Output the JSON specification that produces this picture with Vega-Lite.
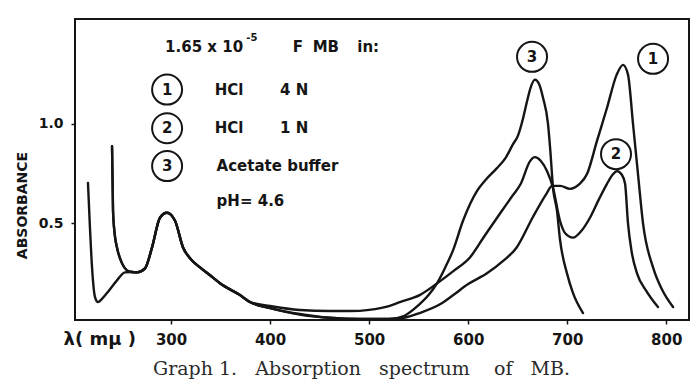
{
  "$schema": "https://vega.github.io/schema/vega-lite/v6.json",
  "width": 614,
  "height": 301,
  "autosize": {"type": "none"},
  "padding": {"left": 75, "top": 19, "right": 11, "bottom": 66},
  "background": "white",
  "config": {
    "view": {"stroke": "#151515", "strokeWidth": 2},
    "font": "DejaVu Sans",
    "axis": {
      "domain": false,
      "grid": false,
      "tickColor": "#151515",
      "tickWidth": 1.5,
      "tickSize": 4,
      "labelColor": "#151515",
      "labelFont": "DejaVu Sans",
      "labelFontWeight": "bold",
      "titleColor": "#151515",
      "titleFont": "DejaVu Sans",
      "titleFontWeight": "bold"
    }
  },
  "title": {
    "text": "Graph 1.\u00a0\u00a0 Absorption\u00a0\u00a0 spectrum\u00a0\u00a0\u00a0 of\u00a0\u00a0 MB.",
    "orient": "bottom",
    "anchor": "start",
    "dx": 138,
    "offset": 12,
    "font": "DejaVu Serif",
    "fontSize": 19,
    "fontWeight": "normal",
    "color": "#2a2a2a"
  },
  "datasets": {
    "spectra": [
      {"series": "1", "nm": 240.4, "abs": 0.887},
      {"series": "1", "nm": 241.4, "abs": 0.563},
      {"series": "1", "nm": 243, "abs": 0.45},
      {"series": "1", "nm": 245.4, "abs": 0.379},
      {"series": "1", "nm": 250.5, "abs": 0.299},
      {"series": "1", "nm": 255.5, "abs": 0.264},
      {"series": "1", "nm": 260, "abs": 0.256},
      {"series": "1", "nm": 265.6, "abs": 0.254},
      {"series": "1", "nm": 273.7, "abs": 0.274},
      {"series": "1", "nm": 280.8, "abs": 0.379},
      {"series": "1", "nm": 288.8, "abs": 0.528},
      {"series": "1", "nm": 295.9, "abs": 0.553},
      {"series": "1", "nm": 304, "abs": 0.513},
      {"series": "1", "nm": 312.1, "abs": 0.379},
      {"series": "1", "nm": 320, "abs": 0.32},
      {"series": "1", "nm": 329.2, "abs": 0.279},
      {"series": "1", "nm": 342, "abs": 0.229},
      {"series": "1", "nm": 349.4, "abs": 0.199},
      {"series": "1", "nm": 369.6, "abs": 0.14},
      {"series": "1", "nm": 379.7, "abs": 0.105},
      {"series": "1", "nm": 400, "abs": 0.075},
      {"series": "1", "nm": 430, "abs": 0.042},
      {"series": "1", "nm": 460, "abs": 0.026},
      {"series": "1", "nm": 490, "abs": 0.02},
      {"series": "1", "nm": 520, "abs": 0.02},
      {"series": "1", "nm": 535, "abs": 0.026},
      {"series": "1", "nm": 551, "abs": 0.05},
      {"series": "1", "nm": 572, "abs": 0.095},
      {"series": "1", "nm": 585, "abs": 0.14},
      {"series": "1", "nm": 600, "abs": 0.195},
      {"series": "1", "nm": 619, "abs": 0.249},
      {"series": "1", "nm": 635, "abs": 0.31},
      {"series": "1", "nm": 649, "abs": 0.379},
      {"series": "1", "nm": 665, "abs": 0.528},
      {"series": "1", "nm": 679, "abs": 0.648},
      {"series": "1", "nm": 684.7, "abs": 0.688},
      {"series": "1", "nm": 693, "abs": 0.688},
      {"series": "1", "nm": 702.8, "abs": 0.673},
      {"series": "1", "nm": 712, "abs": 0.695},
      {"series": "1", "nm": 720, "abs": 0.747},
      {"series": "1", "nm": 730, "abs": 0.912},
      {"series": "1", "nm": 740, "abs": 1.076},
      {"series": "1", "nm": 750, "abs": 1.246},
      {"series": "1", "nm": 756.4, "abs": 1.295},
      {"series": "1", "nm": 761.4, "abs": 1.246},
      {"series": "1", "nm": 766.5, "abs": 0.997},
      {"series": "1", "nm": 771.5, "abs": 0.747},
      {"series": "1", "nm": 776.6, "abs": 0.498},
      {"series": "1", "nm": 786.7, "abs": 0.279},
      {"series": "1", "nm": 796, "abs": 0.165},
      {"series": "1", "nm": 806.9, "abs": 0.08},

      {"series": "2", "nm": 240.4, "abs": 0.887},
      {"series": "2", "nm": 241.4, "abs": 0.563},
      {"series": "2", "nm": 243, "abs": 0.45},
      {"series": "2", "nm": 245.4, "abs": 0.379},
      {"series": "2", "nm": 250.5, "abs": 0.299},
      {"series": "2", "nm": 255.5, "abs": 0.264},
      {"series": "2", "nm": 260, "abs": 0.256},
      {"series": "2", "nm": 265.6, "abs": 0.254},
      {"series": "2", "nm": 273.7, "abs": 0.274},
      {"series": "2", "nm": 280.8, "abs": 0.379},
      {"series": "2", "nm": 288.8, "abs": 0.528},
      {"series": "2", "nm": 295.9, "abs": 0.553},
      {"series": "2", "nm": 304, "abs": 0.513},
      {"series": "2", "nm": 312.1, "abs": 0.379},
      {"series": "2", "nm": 320, "abs": 0.32},
      {"series": "2", "nm": 329.2, "abs": 0.279},
      {"series": "2", "nm": 342, "abs": 0.229},
      {"series": "2", "nm": 349.4, "abs": 0.199},
      {"series": "2", "nm": 369.6, "abs": 0.14},
      {"series": "2", "nm": 379.7, "abs": 0.105},
      {"series": "2", "nm": 400, "abs": 0.085},
      {"series": "2", "nm": 430, "abs": 0.065},
      {"series": "2", "nm": 460, "abs": 0.06},
      {"series": "2", "nm": 481, "abs": 0.06},
      {"series": "2", "nm": 500, "abs": 0.066},
      {"series": "2", "nm": 520, "abs": 0.085},
      {"series": "2", "nm": 531, "abs": 0.105},
      {"series": "2", "nm": 551, "abs": 0.14},
      {"series": "2", "nm": 569, "abs": 0.2},
      {"series": "2", "nm": 585, "abs": 0.26},
      {"series": "2", "nm": 602, "abs": 0.33},
      {"series": "2", "nm": 617, "abs": 0.44},
      {"series": "2", "nm": 632, "abs": 0.548},
      {"series": "2", "nm": 645, "abs": 0.64},
      {"series": "2", "nm": 653, "abs": 0.697},
      {"series": "2", "nm": 662.5, "abs": 0.812},
      {"series": "2", "nm": 667.5, "abs": 0.832},
      {"series": "2", "nm": 673, "abs": 0.815},
      {"series": "2", "nm": 679.6, "abs": 0.762},
      {"series": "2", "nm": 685.7, "abs": 0.678},
      {"series": "2", "nm": 692.7, "abs": 0.513},
      {"series": "2", "nm": 698, "abs": 0.45},
      {"series": "2", "nm": 705.9, "abs": 0.428},
      {"series": "2", "nm": 714, "abs": 0.46},
      {"series": "2", "nm": 723, "abs": 0.528},
      {"series": "2", "nm": 732, "abs": 0.62},
      {"series": "2", "nm": 740.2, "abs": 0.698},
      {"series": "2", "nm": 746, "abs": 0.745},
      {"series": "2", "nm": 750.3, "abs": 0.762},
      {"series": "2", "nm": 755, "abs": 0.745},
      {"series": "2", "nm": 758.4, "abs": 0.7},
      {"series": "2", "nm": 761.4, "abs": 0.5},
      {"series": "2", "nm": 765, "abs": 0.36},
      {"series": "2", "nm": 770.5, "abs": 0.249},
      {"series": "2", "nm": 780, "abs": 0.16},
      {"series": "2", "nm": 791.7, "abs": 0.08},

      {"series": "3", "nm": 216.1, "abs": 0.703},
      {"series": "3", "nm": 218.1, "abs": 0.478},
      {"series": "3", "nm": 220.2, "abs": 0.279},
      {"series": "3", "nm": 223.2, "abs": 0.13},
      {"series": "3", "nm": 226.2, "abs": 0.105},
      {"series": "3", "nm": 230, "abs": 0.12},
      {"series": "3", "nm": 235.3, "abs": 0.15},
      {"series": "3", "nm": 245.4, "abs": 0.214},
      {"series": "3", "nm": 253.5, "abs": 0.254},
      {"series": "3", "nm": 260, "abs": 0.256},
      {"series": "3", "nm": 265.6, "abs": 0.254},
      {"series": "3", "nm": 273.7, "abs": 0.274},
      {"series": "3", "nm": 280.8, "abs": 0.379},
      {"series": "3", "nm": 288.8, "abs": 0.528},
      {"series": "3", "nm": 295.9, "abs": 0.553},
      {"series": "3", "nm": 304, "abs": 0.513},
      {"series": "3", "nm": 312.1, "abs": 0.379},
      {"series": "3", "nm": 320, "abs": 0.32},
      {"series": "3", "nm": 329.2, "abs": 0.279},
      {"series": "3", "nm": 342, "abs": 0.229},
      {"series": "3", "nm": 349.4, "abs": 0.199},
      {"series": "3", "nm": 369.6, "abs": 0.14},
      {"series": "3", "nm": 379.7, "abs": 0.105},
      {"series": "3", "nm": 400, "abs": 0.075},
      {"series": "3", "nm": 430, "abs": 0.045},
      {"series": "3", "nm": 460, "abs": 0.026},
      {"series": "3", "nm": 490, "abs": 0.02},
      {"series": "3", "nm": 520, "abs": 0.02},
      {"series": "3", "nm": 535, "abs": 0.035},
      {"series": "3", "nm": 550, "abs": 0.09},
      {"series": "3", "nm": 560, "abs": 0.14},
      {"series": "3", "nm": 568.5, "abs": 0.199},
      {"series": "3", "nm": 577, "abs": 0.28},
      {"series": "3", "nm": 584.7, "abs": 0.364},
      {"series": "3", "nm": 594.8, "abs": 0.513},
      {"series": "3", "nm": 609, "abs": 0.663},
      {"series": "3", "nm": 618, "abs": 0.72},
      {"series": "3", "nm": 629.1, "abs": 0.777},
      {"series": "3", "nm": 638, "abs": 0.83},
      {"series": "3", "nm": 645.3, "abs": 0.897},
      {"series": "3", "nm": 650.3, "abs": 0.94},
      {"series": "3", "nm": 655.4, "abs": 1.026},
      {"series": "3", "nm": 659.4, "abs": 1.111},
      {"series": "3", "nm": 663, "abs": 1.18},
      {"series": "3", "nm": 667.5, "abs": 1.221},
      {"series": "3", "nm": 671.5, "abs": 1.2},
      {"series": "3", "nm": 675.6, "abs": 1.13},
      {"series": "3", "nm": 680.6, "abs": 1.0},
      {"series": "3", "nm": 683, "abs": 0.862},
      {"series": "3", "nm": 685.7, "abs": 0.678},
      {"series": "3", "nm": 689.7, "abs": 0.563},
      {"series": "3", "nm": 692.7, "abs": 0.42},
      {"series": "3", "nm": 699.8, "abs": 0.249},
      {"series": "3", "nm": 705.9, "abs": 0.15},
      {"series": "3", "nm": 716, "abs": 0.05}
    ],
    "markers": [
      {"label": "1", "nm": 296, "abs": 1.171},
      {"label": "2", "nm": 296, "abs": 0.977},
      {"label": "3", "nm": 296, "abs": 0.787},
      {"label": "3", "nm": 664.5, "abs": 1.335},
      {"label": "1", "nm": 786.7, "abs": 1.325},
      {"label": "2", "nm": 749.3, "abs": 0.847}
    ],
    "notes": [
      {"label": "1.65 x 10", "nm": 294, "abs": 1.385},
      {"label": "F", "nm": 423, "abs": 1.385},
      {"label": "MB", "nm": 443, "abs": 1.385},
      {"label": "in:", "nm": 488, "abs": 1.385},
      {"label": "HCl", "nm": 344, "abs": 1.171},
      {"label": "4 N", "nm": 410, "abs": 1.171},
      {"label": "HCl", "nm": 344, "abs": 0.977},
      {"label": "1 N", "nm": 410, "abs": 0.977},
      {"label": "Acetate buffer", "nm": 346, "abs": 0.787},
      {"label": "pH= 4.6", "nm": 346, "abs": 0.613}
    ],
    "exponent": [
      {"label": "-5", "nm": 376, "abs": 1.43}
    ]
  },
  "layer": [
    {
      "data": {"name": "spectra"},
      "mark": {
        "type": "line",
        "interpolate": "monotone",
        "color": "#151515",
        "strokeWidth": 2.4,
        "strokeCap": "round",
        "strokeJoin": "round"
      },
      "encoding": {
        "x": {
          "field": "nm",
          "type": "quantitative",
          "scale": {"domain": [203, 823], "nice": false, "zero": false},
          "axis": {
            "values": [300, 400, 500, 600, 700, 800],
            "format": "d",
            "labelFontSize": 15,
            "labelPadding": 8,
            "title": "λ( mμ )",
            "titleFontSize": 18,
            "titleX": -12,
            "titleY": 19,
            "titleAlign": "left",
            "titleBaseline": "middle"
          }
        },
        "y": {
          "field": "abs",
          "type": "quantitative",
          "scale": {"domain": [0.015, 1.525], "nice": false, "zero": false},
          "axis": {
            "values": [0.5, 1.0],
            "format": ".1f",
            "labelFontSize": 14,
            "labelPadding": 8,
            "title": "ABSORBANCE",
            "titleFontSize": 14,
            "titleAngle": -90,
            "titleX": -53,
            "titleY": 186,
            "titleAlign": "center",
            "titleBaseline": "middle"
          }
        },
        "detail": {"field": "series", "type": "nominal"}
      }
    },
    {
      "data": {"name": "markers"},
      "mark": {
        "type": "point",
        "shape": "circle",
        "filled": false,
        "size": 900,
        "stroke": "#151515",
        "strokeWidth": 2,
        "opacity": 1
      },
      "encoding": {
        "x": {"field": "nm", "type": "quantitative"},
        "y": {"field": "abs", "type": "quantitative"}
      }
    },
    {
      "data": {"name": "markers"},
      "mark": {
        "type": "text",
        "font": "DejaVu Sans",
        "fontWeight": "bold",
        "fontSize": 15,
        "color": "#151515",
        "align": "center",
        "baseline": "middle"
      },
      "encoding": {
        "x": {"field": "nm", "type": "quantitative"},
        "y": {"field": "abs", "type": "quantitative"},
        "text": {"field": "label"}
      }
    },
    {
      "data": {"name": "notes"},
      "mark": {
        "type": "text",
        "font": "DejaVu Sans",
        "fontWeight": "bold",
        "fontSize": 15,
        "color": "#151515",
        "align": "left",
        "baseline": "middle"
      },
      "encoding": {
        "x": {"field": "nm", "type": "quantitative"},
        "y": {"field": "abs", "type": "quantitative"},
        "text": {"field": "label"}
      }
    },
    {
      "data": {"name": "exponent"},
      "mark": {
        "type": "text",
        "font": "DejaVu Sans",
        "fontWeight": "bold",
        "fontSize": 10,
        "color": "#151515",
        "align": "left",
        "baseline": "middle"
      },
      "encoding": {
        "x": {"field": "nm", "type": "quantitative"},
        "y": {"field": "abs", "type": "quantitative"},
        "text": {"field": "label"}
      }
    }
  ]
}
